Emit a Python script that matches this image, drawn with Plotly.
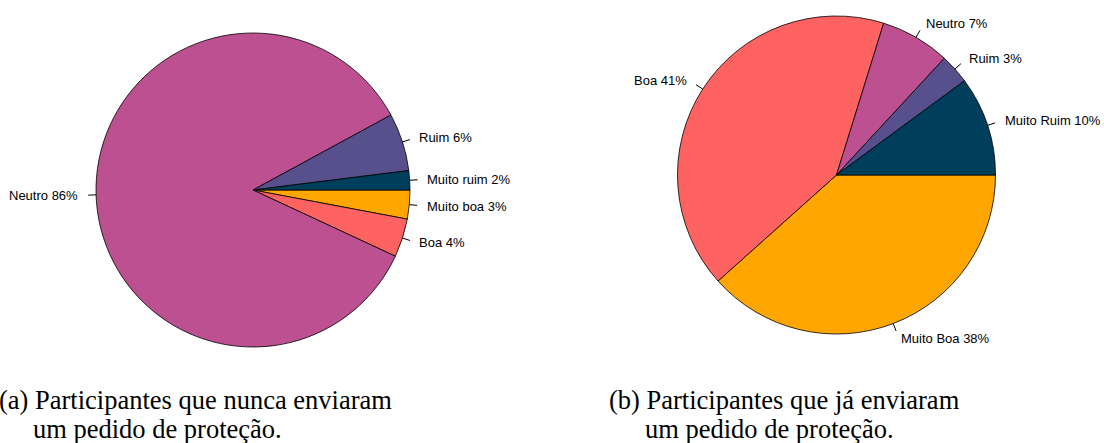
import math
import plotly.graph_objects as go

# Response categories, listed counter-clockwise starting at 3 o'clock
labels_a = ["Muito ruim", "Ruim", "Neutro", "Boa", "Muito boa"]
values_a = [2, 6, 86, 4, 3]

labels_b = ["Muito Ruim", "Ruim", "Neutro", "Boa", "Muito Boa"]
values_b = [10, 3, 7, 41, 38]

colors = ["#003f5c", "#58508d", "#bc5090", "#ff6361", "#ffa600"]

caption_a = ["(a) Participantes que nunca enviaram", "um pedido de proteção."]
caption_b = ["(b) Participantes que já enviaram", "um pedido de proteção."]

W, H = 1104, 443

# pie geometry in pixels: centre x, centre y, radius
geom_a = (253.0, 190.0, 157.0)
geom_b = (836.5, 175.0, 159.0)

LABEL_FONT = dict(family="Liberation Sans, Arial, sans-serif", size=13, color="black")
CAPTION_FONT = dict(family="Liberation Serif, Times New Roman, serif", size=26.5, color="black")


def px_to_paper(x, y):
    return x / W, 1 - y / H


def domain_for(geom):
    cx, cy, r = geom
    x0, y0 = px_to_paper(cx - r, cy + r)
    x1, y1 = px_to_paper(cx + r, cy - r)
    return dict(x=[x0, x1], y=[y0, y1])


def pie_trace(labels, values, geom):
    # clockwise from 3 o'clock over the reversed lists == counter-clockwise over the originals
    return go.Pie(
        labels=labels[::-1],
        values=values[::-1],
        sort=False,
        direction="clockwise",
        rotation=90,
        marker=dict(colors=colors[::-1], line=dict(color="black", width=0.8)),
        textinfo="none",
        hoverinfo="label+percent",
        showlegend=False,
        domain=domain_for(geom),
    )


def leader_labels(labels, values, geom):
    """Outside labels with short radial ticks, placed at each slice's mid-angle."""
    cx, cy, r = geom
    total = float(sum(values))
    shapes, annots = [], []
    cum = 0.0
    for name, v in zip(labels, values):
        mid = 2 * math.pi * (cum + v / 2.0) / total
        cum += v
        c, s = math.cos(mid), math.sin(mid)
        xa, ya = px_to_paper(cx + r * c, cy - r * s)
        xb, yb = px_to_paper(cx + 1.05 * r * c, cy - 1.05 * r * s)
        shapes.append(dict(type="line", xref="paper", yref="paper",
                           x0=xa, y0=ya, x1=xb, y1=yb,
                           line=dict(color="black", width=1)))
        xt, yt = px_to_paper(cx + 1.1 * r * c, cy - 1.1 * r * s)
        annots.append(dict(xref="paper", yref="paper", x=xt, y=yt,
                           text=f"{name} {v}%", showarrow=False,
                           xanchor="left" if c >= 0 else "right",
                           yanchor="middle", font=LABEL_FONT))
    return shapes, annots


fig = go.Figure()
fig.add_trace(pie_trace(labels_a, values_a, geom_a))
fig.add_trace(pie_trace(labels_b, values_b, geom_b))

shapes_a, ann_a = leader_labels(labels_a, values_a, geom_a)
shapes_b, ann_b = leader_labels(labels_b, values_b, geom_b)


def caption(lines, x_first, x_second):
    out = []
    for text, xp, yp in [(lines[0], x_first, 399.5), (lines[1], x_second, 428.5)]:
        x, y = px_to_paper(xp, yp)
        out.append(dict(xref="paper", yref="paper", x=x, y=y, text=text,
                        showarrow=False, xanchor="left", yanchor="middle",
                        font=CAPTION_FONT))
    return out


captions = caption(caption_a, -3, 31) + caption(caption_b, 607, 643)

fig.update_layout(
    width=W, height=H,
    margin=dict(l=0, r=0, t=0, b=0),
    paper_bgcolor="white",
    plot_bgcolor="white",
    shapes=shapes_a + shapes_b,
    annotations=ann_a + ann_b + captions,
)

fig.write_html("out.html")
